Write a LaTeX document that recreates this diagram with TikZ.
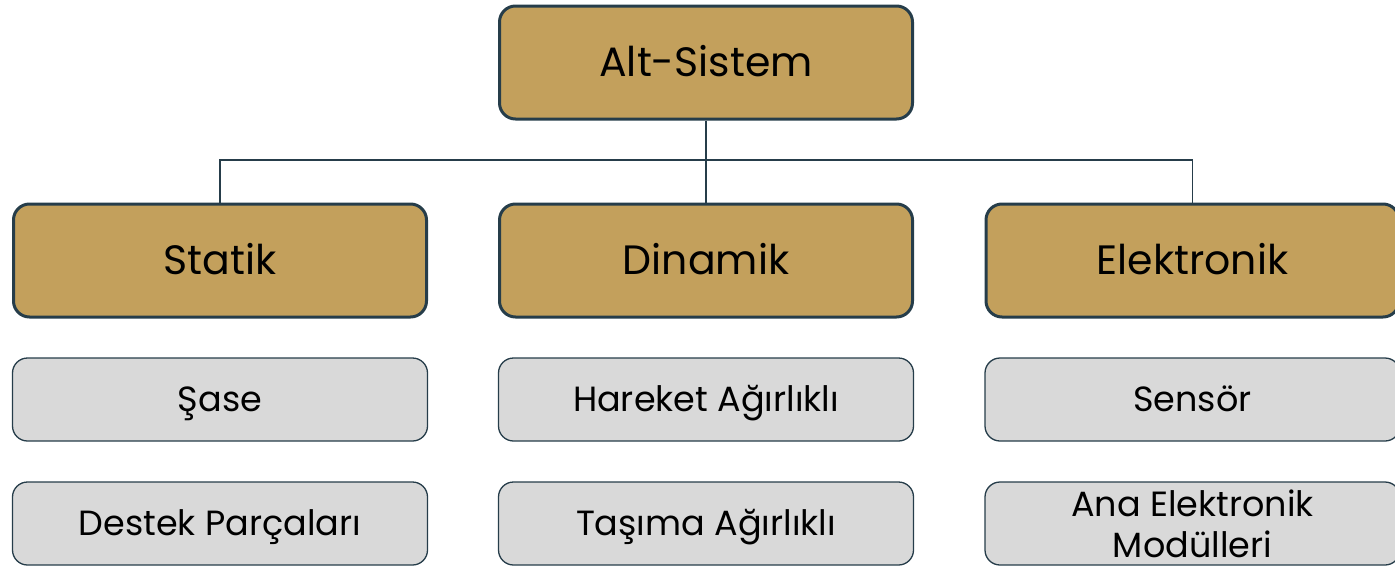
\documentclass[tikz,border=0pt]{standalone}
\usepackage{fontspec}
\setmainfont{Poppins}
\definecolor{gold}{HTML}{C3A05C}
\definecolor{grayfill}{HTML}{D9D9D9}
\definecolor{edge}{HTML}{263D4A}
\begin{document}
\begin{tikzpicture}[x=1pt,y=-1pt,
  headbox/.style={draw=edge,line width=3pt,fill=gold,rounded corners=16pt,minimum width=413pt,minimum height=113pt,inner sep=0pt,text height=28.5pt,text depth=0pt,font=\fontsize{41}{48}\selectfont},
  itembox/.style={draw=edge,line width=1.3pt,fill=grayfill,rounded corners=15pt,minimum width=415pt,minimum height=83pt,inner sep=0pt,align=center,text height=24pt,text depth=0pt,font=\fontsize{35}{41}\selectfont},
  link/.style={draw=edge,line width=1.3pt}]
\useasboundingbox (0,0) rectangle (1395,565);
\node[headbox] (root) at (706,62.5) {Alt-Sistem};
\node[headbox] (stat) at (220,260.5) {Statik};
\node[headbox] (din) at (706,260.5) {Dinamik};
\node[headbox] (elek) at (1192.5,260.5) {Elektronik};
\node[itembox] (s1) at (220,399.5) {Şase};
\node[itembox] (s2) at (220,523.5) {Destek Parçaları};
\node[itembox] (d1) at (706,399.5) {Hareket Ağırlıklı};
\node[itembox] (d2) at (706,523.5) {Taşıma Ağırlıklı};
\node[itembox] (e1) at (1192.5,399.5) {Sensör};
\node[itembox,text height=,text depth=] (e2) at (1192.5,523.5) {Ana Elektronik\\Modülleri};
\coordinate (bus) at (706,160);
\draw[link] (root.south) -- (bus);
\draw[link] (stat.north) |- (bus) -| (elek.north);
\draw[link] (bus) -- (din.north);
\end{tikzpicture}
\end{document}
